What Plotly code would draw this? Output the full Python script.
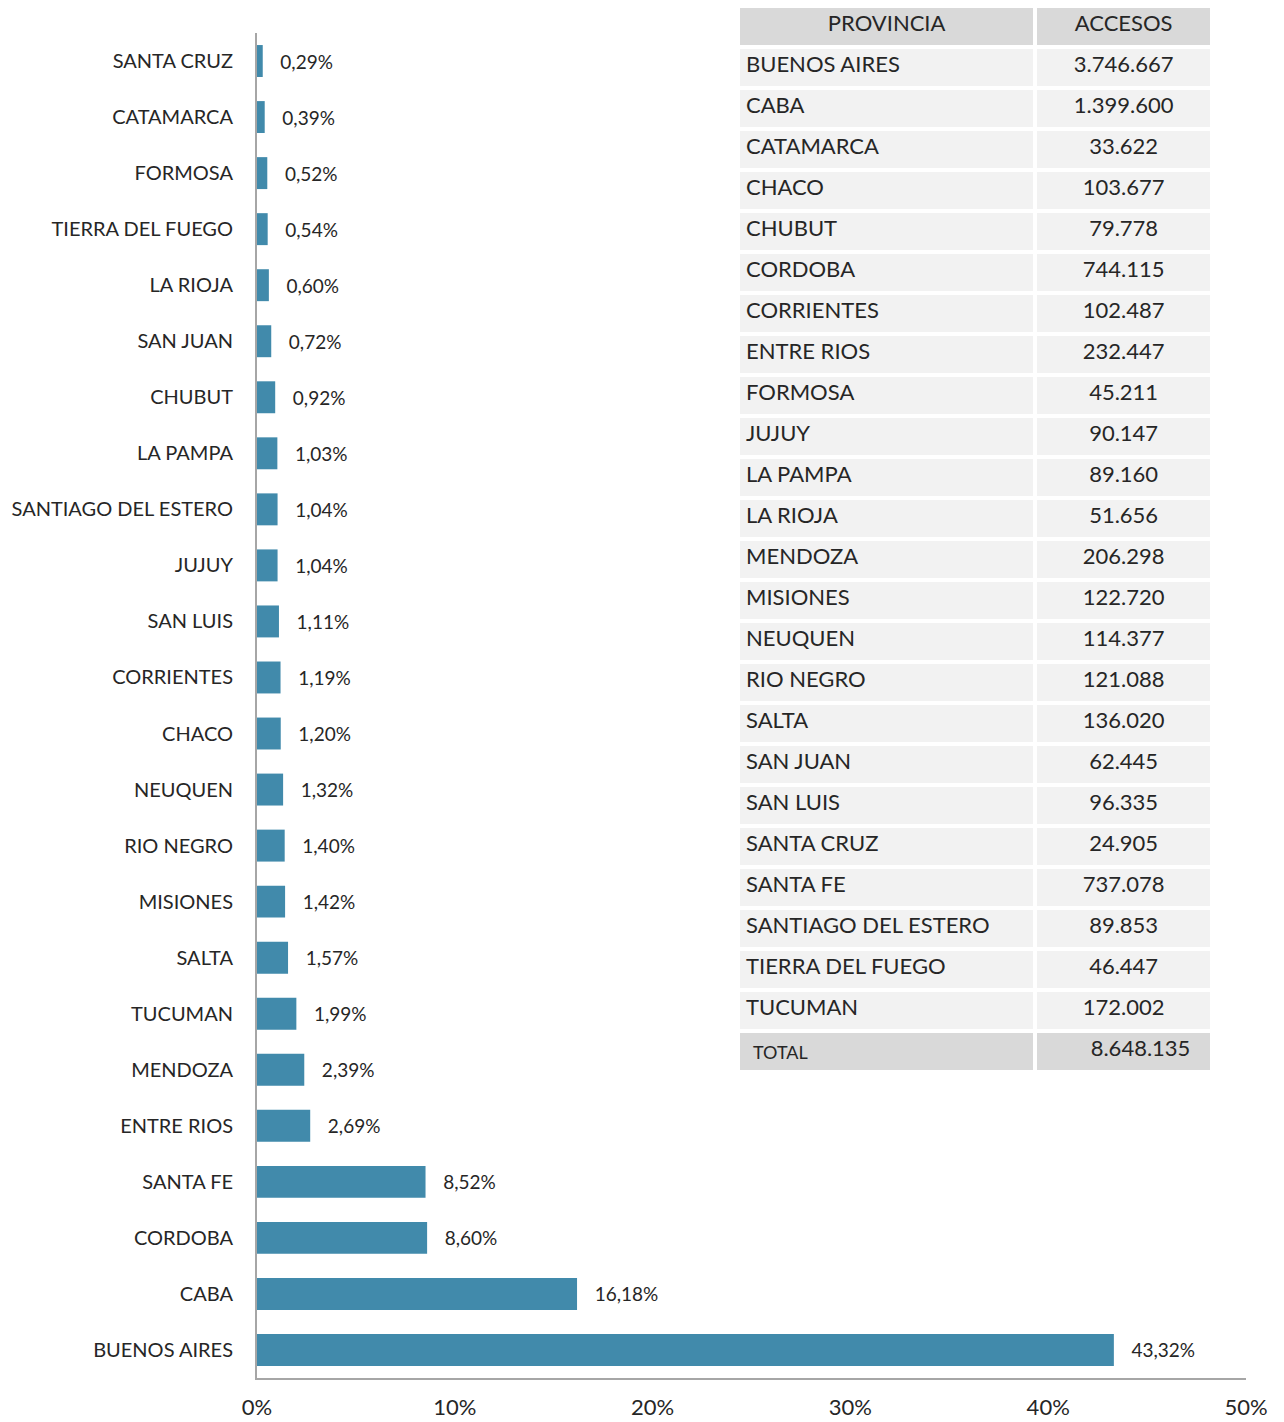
import plotly.graph_objects as go

# Bar chart data (bottom to top)
categories = ["BUENOS AIRES", "CABA", "CORDOBA", "SANTA FE", "ENTRE RIOS", "MENDOZA",
              "TUCUMAN", "SALTA", "MISIONES", "RIO NEGRO", "NEUQUEN", "CHACO",
              "CORRIENTES", "SAN LUIS", "JUJUY", "SANTIAGO DEL ESTERO", "LA PAMPA",
              "CHUBUT", "SAN JUAN", "LA RIOJA", "TIERRA DEL FUEGO", "FORMOSA",
              "CATAMARCA", "SANTA CRUZ"]
shares = [43.32, 16.18, 8.60, 8.52, 2.69, 2.39, 1.99, 1.57, 1.42, 1.40, 1.32, 1.20,
          1.19, 1.11, 1.04, 1.04, 1.03, 0.92, 0.72, 0.60, 0.54, 0.52, 0.39, 0.29]
x_ticks = [0, 10, 20, 30, 40, 50]
x_ticktext = ["0%", "10%", "20%", "30%", "40%", "50%"]

# Table data
provincias = ["BUENOS AIRES", "CABA", "CATAMARCA", "CHACO", "CHUBUT", "CORDOBA",
              "CORRIENTES", "ENTRE RIOS", "FORMOSA", "JUJUY", "LA PAMPA", "LA RIOJA",
              "MENDOZA", "MISIONES", "NEUQUEN", "RIO NEGRO", "SALTA", "SAN JUAN",
              "SAN LUIS", "SANTA CRUZ", "SANTA FE", "SANTIAGO DEL ESTERO",
              "TIERRA DEL FUEGO", "TUCUMAN"]
accesos = ["3.746.667", "1.399.600", "33.622", "103.677", "79.778", "744.115",
           "102.487", "232.447", "45.211", "90.147", "89.160", "51.656", "206.298",
           "122.720", "114.377", "121.088", "136.020", "62.445", "96.335", "24.905",
           "737.078", "89.853", "46.447", "172.002"]
total_label = "TOTAL"
total_value = "8.648.135"
headers = ["PROVINCIA", "ACCESOS"]

W, H = 1284, 1422
FONT = "Lato"
BAR = "#418AAB"
TXT = "#262626"

labels = [f"{v:.2f}".replace(".", ",") + "%" for v in shares]

fig = go.Figure()
fig.add_trace(go.Bar(
    y=categories, x=shares, orientation="h",
    marker=dict(color=BAR, line=dict(width=0)),
    width=0.57,
    text=labels,
    texttemplate="\u00a0\u00a0\u00a0%{text}",
    textposition="outside",
    textfont=dict(family=FONT, size=19, color=TXT),
    cliponaxis=False,
    hoverinfo="skip",
))

n = len(provincias)
col_a = list(provincias) + [""]
col_b = accesos + ["\u00a0\u00a0\u00a0\u00a0\u00a0\u00a0" + total_value]
fill_a = ["#f2f2f2"] * n + ["#d9d9d9"]
fill_b = ["#f2f2f2"] * n + ["#d9d9d9"]

fig.add_trace(go.Table(
    domain=dict(x=[738 / W, 1212 / W], y=[1 - 1075 / H, 1 - 6 / H]),
    columnwidth=[296, 176],
    header=dict(
        values=headers,
        fill_color="#d9d9d9",
        line=dict(color="white", width=4),
        align="center",
        font=dict(family=FONT, size=22, color=TXT),
        height=41,
    ),
    cells=dict(
        values=[col_a, col_b],
        fill=dict(color=[fill_a, fill_b]),
        line=dict(color="white", width=4),
        align=["left", "center"],
        font=dict(family=FONT, size=22, color=TXT),
        height=41,
    ),
))

fig.add_annotation(
    text=total_label, xref="paper", yref="paper",
    x=751 / W, y=1 - 1052 / H, xanchor="left", yanchor="middle",
    showarrow=False, font=dict(family=FONT, size=18, color=TXT),
)

fig.update_layout(
    width=W, height=H,
    margin=dict(l=0, r=0, t=0, b=0),
    paper_bgcolor="white", plot_bgcolor="white",
    showlegend=False,
    xaxis=dict(
        domain=[257 / W, 1246 / W],
        range=[0, 50], tickvals=x_ticks, ticktext=x_ticktext,
        showgrid=False, zeroline=False, automargin=False,
        showline=True, linecolor="#a6a6a6", linewidth=2,
        ticks="", ticklabelstandoff=9,
        tickfont=dict(family=FONT, size=22, color=TXT),
        fixedrange=True,
    ),
    yaxis=dict(
        domain=[1 - 1378 / H, 1 - 33 / H],
        categoryorder="array", categoryarray=categories,
        showgrid=False, zeroline=False, automargin=False,
        showline=True, linecolor="#a6a6a6", linewidth=2,
        ticks="", ticklabelstandoff=18,
        tickfont=dict(family=FONT, size=20, color=TXT),
        fixedrange=True,
    ),
)

fig.write_html("out.html", config={"displayModeBar": False},
               post_script="document.body.style.margin='0';")
